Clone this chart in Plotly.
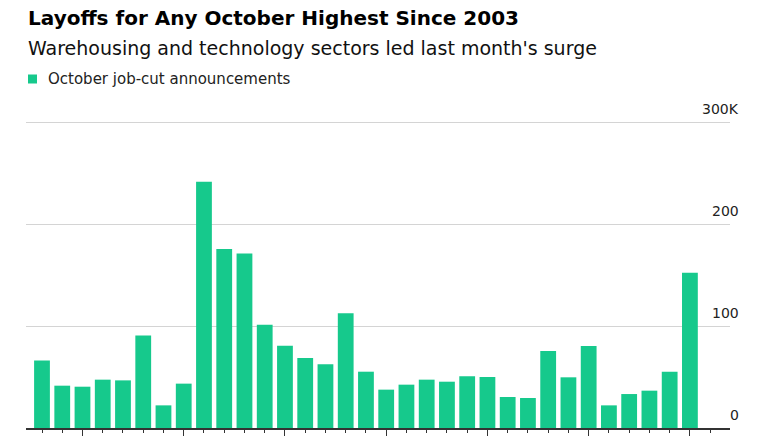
import plotly.graph_objects as go

years = list(range(1993, 2026))
job_cuts_k = [66.3, 41.5, 40.5, 47.4, 46.7, 90.8, 22.2, 43.5, 241.5, 175.5,
              171.2, 101.3, 80.7, 68.6, 62.4, 112.4, 55.2, 37.6, 42.5, 47.4,
              45.4, 50.7, 50.0, 30.4, 29.4, 75.5, 49.7, 80.4, 22.2, 33.3,
              36.6, 55.2, 152.3]
ytick_vals = [0, 100, 200, 300]
ytick_text = ["0", "100", "200", "300K"]

title = "<b>Layoffs for Any October Highest Since 2003</b>"
subtitle = "Warehousing and technology sectors led last month's surge"
legend_label = "October job-cut announcements"
green = "#16C98C"

fig = go.Figure()
fig.add_trace(go.Bar(x=years, y=job_cuts_k, marker=dict(color=green, line=dict(width=0)),
                     name=legend_label, showlegend=False))

L, R, T, B = 26, 30, 120, 12
W, H = 760, 440
pw = W - L - R
ph = H - T - B

fig.update_layout(
    width=W, height=H,
    margin=dict(l=L, r=R, t=T, b=B, pad=0, autoexpand=False),
    paper_bgcolor="white", plot_bgcolor="white",
    bargap=0.22,
    font=dict(family="DejaVu Sans, sans-serif", color="#000"),
    xaxis=dict(range=[1992.21, 2026.98], showgrid=False, zeroline=False,
               automargin=False,
               showline=True, linecolor="#333", linewidth=1.5,
               ticks="outside", tick0=1995, dtick=5, ticklen=6, tickwidth=1.2,
               tickcolor="#333", showticklabels=False,
               minor=dict(ticks="outside", dtick=1, tick0=1993, ticklen=3,
                          tickwidth=1.2, tickcolor="#333")),
    yaxis=dict(range=[0, 302], tickvals=ytick_vals, showticklabels=False,
               automargin=False,
               showgrid=True, gridcolor="#d4d4d4", gridwidth=1, zeroline=False),
)

annotations = []
for v, t in zip(ytick_vals, ytick_text):
    annotations.append(dict(x=(741 - L) / pw, xref="paper", y=v, yref="y",
                            text=t, showarrow=False, xanchor="right", yanchor="bottom",
                            yshift=3, font=dict(size=14, color="#222")))
annotations.append(dict(x=(26 - L) / pw, xref="paper", y=(H - 18 - B) / ph, yref="paper",
                        text=title, showarrow=False, xanchor="left", yanchor="middle",
                        font=dict(size=20, color="#000")))
annotations.append(dict(x=(26 - L) / pw, xref="paper", y=(H - 48 - B) / ph, yref="paper",
                        text=subtitle, showarrow=False, xanchor="left", yanchor="middle",
                        font=dict(size=19, color="#111")))
annotations.append(dict(x=(46 - L) / pw, xref="paper", y=(H - 79 - B) / ph, yref="paper",
                        text=legend_label, showarrow=False, xanchor="left", yanchor="middle",
                        font=dict(size=15, color="#222")))
fig.update_layout(annotations=annotations)
fig.add_shape(type="rect", xref="paper", yref="paper",
              x0=(28 - L) / pw, x1=(37 - L) / pw,
              y0=(H - 83.5 - B) / ph, y1=(H - 74.5 - B) / ph,
              fillcolor=green, line=dict(width=0))

fig.write_html("out.html")
